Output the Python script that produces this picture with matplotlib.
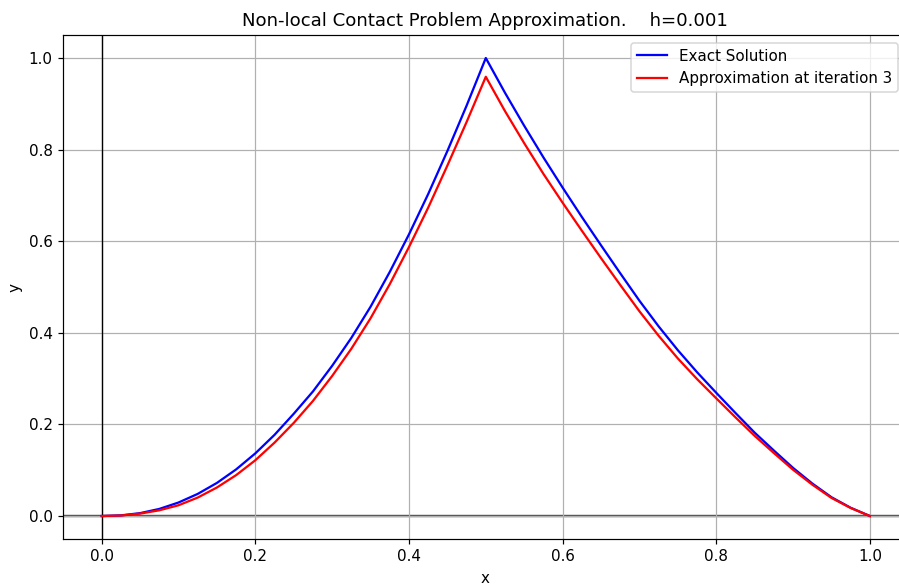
# Aproximación del problema de contacto no local: solución exacta vs iteración 3
import matplotlib
matplotlib.use("Agg")
import matplotlib.pyplot as plt

# Valores (paso 0.025)
x_vals = [0.0, 0.025, 0.05, 0.075, 0.1, 0.125, 0.15, 0.175, 0.2, 0.225,
          0.25, 0.275, 0.3, 0.325, 0.35, 0.375, 0.4, 0.425, 0.45, 0.475,
          0.5, 0.525, 0.55, 0.575, 0.6, 0.625, 0.65, 0.675, 0.7, 0.725,
          0.75, 0.775, 0.8, 0.825, 0.85, 0.875, 0.9, 0.925, 0.95, 0.975, 1.0]

exacta = [0.0, 0.0014, 0.0063, 0.0155, 0.0295, 0.0483, 0.0723, 0.1018, 0.1368, 0.1773,
          0.2233, 0.272, 0.328, 0.389, 0.457, 0.533, 0.615, 0.703, 0.797, 0.896,
          1.0, 0.924, 0.852, 0.783, 0.717, 0.653, 0.591, 0.530, 0.470, 0.414,
          0.362, 0.314, 0.269, 0.225, 0.182, 0.143, 0.105, 0.071, 0.041, 0.018, 0.0]

aprox = [0.0, 0.0011, 0.0053, 0.0125, 0.0235, 0.0403, 0.0623, 0.0893, 0.1218, 0.1603,
         0.2033, 0.2513, 0.3058, 0.3653, 0.4318, 0.5063, 0.5873, 0.6733, 0.7653, 0.8603,
         0.959, 0.884, 0.814, 0.747, 0.684, 0.623, 0.563, 0.5045, 0.447, 0.3935,
         0.344, 0.299, 0.257, 0.2155, 0.175, 0.1375, 0.101, 0.0685, 0.0395, 0.0175, 0.0]

h = 0.001
iteracion = 3

dpi = 108.5
fig = plt.figure(figsize=(899 / dpi, 587 / dpi), dpi=dpi)
# el borde derecho queda recortado como en la captura original
ax = fig.add_axes([0.0704, 0.0819, 0.9374, 0.8583])

ax.plot(x_vals, exacta, color='blue', label='Exact Solution')
ax.plot(x_vals, aprox, color='red', label=f'Approximation at iteration {iteracion}')

ax.axhline(0, color='#505050', linewidth=1.6, zorder=1.5)
ax.axvline(0, color='black', linewidth=0.9, zorder=1.6)

ax.set_xlim(-0.05, 1.047)
ax.set_ylim(-0.05, 1.05)
ax.set_title(f"Non-local Contact Problem Approximation.    h={h}")
ax.set_xlabel('x')
ax.set_ylabel('y')
ax.grid(True)
ax.legend(loc='upper right')

fig.savefig('out.png', dpi=dpi)
